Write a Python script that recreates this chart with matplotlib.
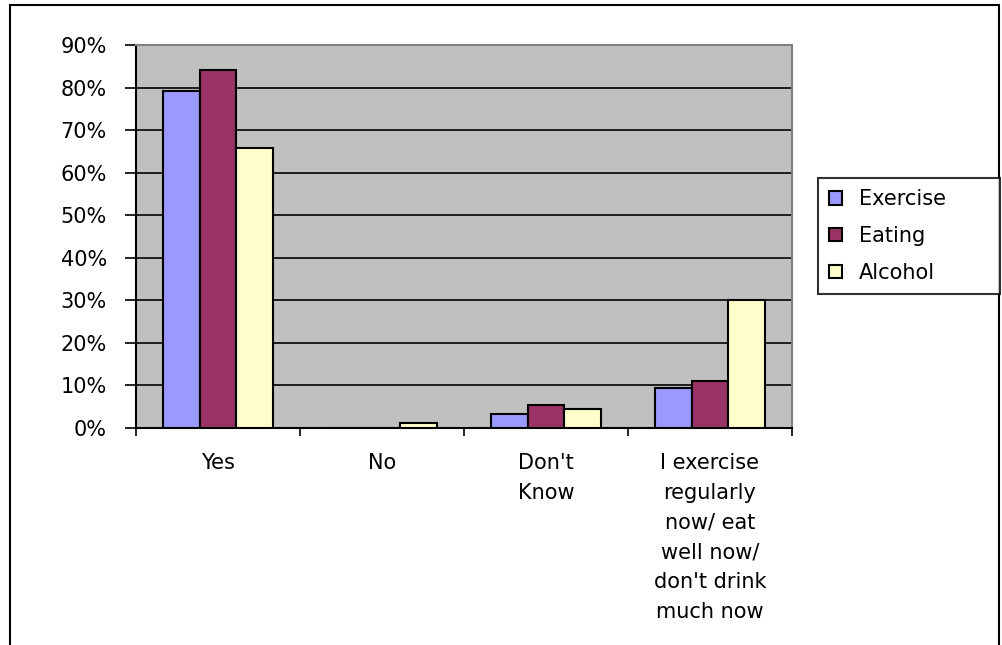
import numpy as np
import matplotlib.pyplot as plt
from matplotlib.patches import Rectangle

plt.rcParams['font.family'] = ['DejaVu Sans']

# data
categories = ['Yes', 'No', "Don't\nKnow",
              "I exercise\nregularly\nnow/ eat\nwell now/\ndon't drink\nmuch now"]
exercise = [79.3, 0.0, 3.2, 9.4]
eating = [84.2, 0.0, 5.3, 11.0]
alcohol = [65.9, 1.1, 4.4, 30.1]
series = ['Exercise', 'Eating', 'Alcohol']
colors = ['#9999ff', '#993366', '#ffffcc']

fig = plt.figure(figsize=(10.02, 6.45), dpi=100)
ax = fig.add_axes([136 / 1002, 1 - 428 / 645, (792 - 136) / 1002, (428 - 45) / 645])
ax.set_facecolor('#c0c0c0')

x = np.arange(len(categories))
w = 0.224
for i, (name, vals, c) in enumerate(zip(series, [exercise, eating, alcohol], colors)):
    ax.bar(x + (i - 1) * w, vals, width=w, color=c, edgecolor='black',
           linewidth=1.5, label=name, zorder=3)

ax.set_xlim(-0.5, len(categories) - 0.5)
ax.set_ylim(0, 90)
ax.set_yticks(np.arange(0, 91, 10))
ax.set_yticklabels([f'{v}%' for v in range(0, 91, 10)], fontsize=15)
ax.yaxis.grid(True, color='black', linewidth=1.2, zorder=0)
ax.set_axisbelow(True)

ax.set_xticks(np.arange(-0.5, len(categories), 1))
ax.set_xticklabels([])
ax.tick_params(axis='y', direction='out', length=8, width=1.2, color='black', pad=13)
ax.tick_params(axis='x', direction='out', length=6, width=1.2, color='black')
for xi, lab in zip(x, categories):
    ax.text(xi, -5.8, lab, ha='center', va='top', fontsize=15,
            linespacing=1.62, transform=ax.transData)

for s in ['left', 'bottom']:
    ax.spines[s].set_color('black')
    ax.spines[s].set_linewidth(1.5)
for s in ['top', 'right']:
    ax.spines[s].set_color('#808080')
    ax.spines[s].set_linewidth(1.5)

leg = fig.legend(loc='upper left',
                 bbox_to_anchor=(818 / 1002, 1 - 288 / 645, 182 / 1002, 110 / 645),
                 mode='expand', fontsize=15, frameon=True, fancybox=False,
                 edgecolor='black', handlelength=0.6, handleheight=0.6,
                 handletextpad=0.8, borderpad=0.55, labelspacing=0.8,
                 borderaxespad=0)
leg.get_frame().set_linewidth(1.5)

# outer chart border
fig.patches.append(Rectangle((10 / 1002, -0.05), 989 / 1002, 1.05 - 5 / 645,
                             transform=fig.transFigure, fill=False,
                             edgecolor='black', linewidth=1.5))

fig.savefig('out.png', dpi=100)
